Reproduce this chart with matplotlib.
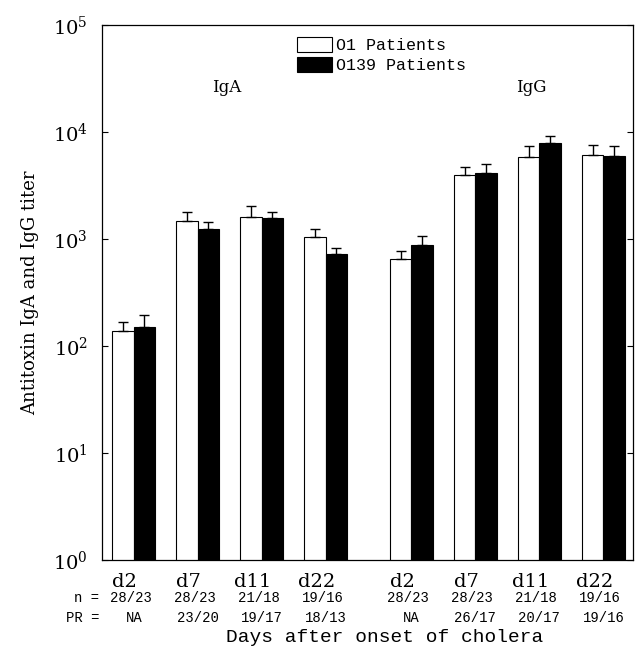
import numpy as np
import matplotlib
matplotlib.use('Agg')
import matplotlib.pyplot as plt
from matplotlib.transforms import blended_transform_factory

plt.rcParams['font.family'] = 'DejaVu Serif'
plt.rcParams['mathtext.fontset'] = 'dejavuserif'

# values (geometric mean titers, upper error)
days = ['d2', 'd7', 'd11', 'd22']
iga_o1 = [139, 1480, 1600, 1040]
iga_o1_err = [30, 300, 420, 210]
iga_o139 = [151, 1250, 1560, 725]
iga_o139_err = [44, 200, 240, 105]
igg_o1 = [654, 3990, 5800, 6140]
igg_o1_err = [120, 750, 1550, 1370]
igg_o139 = [885, 4170, 7840, 5970]
igg_o139_err = [180, 890, 1390, 1380]
n_labels = ['28/23', '28/23', '21/18', '19/16', '28/23', '28/23', '21/18', '19/16']
pr_labels = ['NA', '23/20', '19/17', '18/13', 'NA', '26/17', '20/17', '19/16']

pos = np.concatenate([np.arange(4), np.arange(4) + 4.34])
o1 = iga_o1 + igg_o1
o1_err = iga_o1_err + igg_o1_err
o139 = iga_o139 + igg_o139
o139_err = iga_o139_err + igg_o139_err
w = 0.335

fig = plt.figure(figsize=(6.36, 6.5), dpi=100)
ax = fig.add_axes([0.160, 0.1385, 0.835, 0.823])

ax.bar(pos - w/2, o1, w, color='white', edgecolor='black', linewidth=0.8,
       yerr=[np.zeros(8), o1_err], error_kw=dict(ecolor='black', elinewidth=1, capsize=3.5, capthick=1),
       label='O1 Patients', log=True)
ax.bar(pos + w/2, o139, w, color='black', edgecolor='black', linewidth=0.8,
       yerr=[np.zeros(8), o139_err], error_kw=dict(ecolor='black', elinewidth=1, capsize=3.5, capthick=1),
       label='O139 Patients', log=True)

ax.set_yscale('log')
ax.set_ylim(1, 1e5)
ax.set_xlim(-0.5, 7.8)
ax.set_yticks([1, 10, 100, 1e3, 1e4, 1e5])
ax.minorticks_off()
ax.tick_params(axis='y', direction='in', length=4, right=True, labelsize=14, pad=10)
ax.set_xticks([])
for s in ax.spines.values():
    s.set_linewidth(0.9)

ax.set_ylabel('Antitoxin IgA and IgG titer', family='DejaVu Serif', fontsize=13, labelpad=10)

tr = blended_transform_factory(ax.transData, ax.transAxes)
ax.text(1.45, 0.884, 'IgA', transform=tr, ha='center', va='center', family='DejaVu Serif', fontsize=12)
ax.text(6.22, 0.884, 'IgG', transform=tr, ha='center', va='center', family='DejaVu Serif', fontsize=12)

day_labels = days + days
for i, p in enumerate(pos):
    ax.text(p - 0.14, -0.041, day_labels[i], transform=tr, ha='center', va='center',
            family='DejaVu Serif', fontsize=14, clip_on=False)
    ax.text(p - 0.05, -0.071, n_labels[i], transform=tr, ha='center', va='center',
            family='Liberation Mono', fontsize=10, clip_on=False)
    ax.text(p, -0.108, pr_labels[i], transform=tr, ha='center', va='center',
            family='Liberation Mono', fontsize=10, clip_on=False)
ax.text(-0.005, -0.071, 'n =', transform=ax.transAxes, ha='right', va='center',
        family='Liberation Mono', fontsize=10)
ax.text(-0.005, -0.108, 'PR =', transform=ax.transAxes, ha='right', va='center',
        family='Liberation Mono', fontsize=10)
fig.text(385/636, 1 - 637/650, 'Days after onset of cholera', ha='center', va='center',
         family='Liberation Mono', fontsize=14)

ax.legend(loc='upper left', bbox_to_anchor=(0.367, 0.978), frameon=False,
          prop={'family': 'Liberation Mono', 'size': 12}, handlelength=2.15, handleheight=1.0,
          handletextpad=0.2, labelspacing=0.25, borderpad=0, borderaxespad=0)

fig.savefig('out.png', dpi=100)
